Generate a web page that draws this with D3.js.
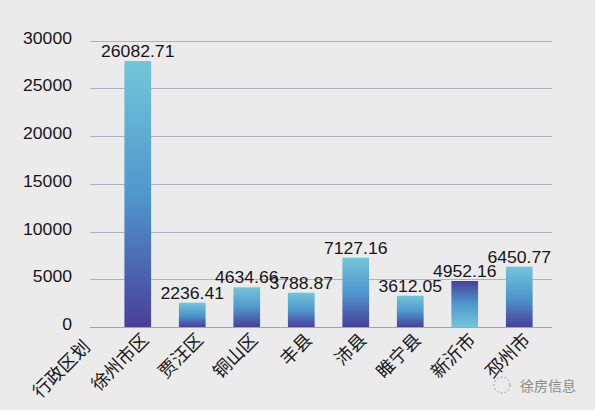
<!DOCTYPE html>
<html><head><meta charset="utf-8">
<script src="https://cdn.jsdelivr.net/npm/d3@7"></script>
<style>html,body{margin:0;padding:0;background:#ebebeb}svg{display:block}</style>
</head><body>
<svg id="chart" width="595" height="410"></svg>
<script>
const headerLabel = "行政区划";
const categories = ["徐州市区","贾汪区","铜山区","丰县","沛县","睢宁县","新沂市","邳州市"];
const valueLabels = ["26082.71","2236.41","4634.66","3788.87","7127.16","3612.05","4952.16","6450.77"];
// bar heights as drawn in the picture
const values = [27850,2545,4157,3592,7257,3277,4817,6314];
const reversedGradient = [false,false,false,false,false,false,true,false];
const yTicks = [0,5000,10000,15000,20000,25000,30000];
const footerText = "徐房信息";

const svg = d3.select("#chart");
const W = 595, H = 410;
svg.append("rect").attr("width",W).attr("height",H).attr("fill","#ebebeb");

const y = d3.scaleLinear().domain([0,30000]).range([327,40.5]);
const x = d3.scaleBand().domain(categories).range([110.5,546.5]).paddingInner(0.51).paddingOuter(0.255);

const defs = svg.append("defs");
function grad(id, stops){
  const g = defs.append("linearGradient").attr("id",id).attr("x1",0).attr("y1",0).attr("x2",0).attr("y2",1);
  stops.forEach(s=>g.append("stop").attr("offset",s[0]).attr("stop-color",s[1]));
}
grad("gNorm",[[0,"#74c5da"],[0.5,"#4f98cd"],[1,"#483f99"]]);
grad("gRev",[[0,"#483f99"],[0.5,"#4f98cd"],[1,"#74c5da"]]);

function stretch(sel,k){
  sel.each(function(){
    const l = this.getComputedTextLength();
    d3.select(this).attr("textLength",l*k).attr("lengthAdjust","spacingAndGlyphs");
  });
}

// gridlines
svg.append("g").selectAll("line").data(yTicks).join("line")
  .attr("x1",90).attr("x2",552)
  .attr("y1",d=>Math.round(y(d))+0.5).attr("y2",d=>Math.round(y(d))+0.5)
  .attr("stroke",d=>d===0?"#9aa2bc":"#abb2c8").attr("stroke-width",1);

// y tick labels
const yl = svg.append("g").selectAll("text").data(yTicks).join("text")
  .attr("x",72).attr("y",d=>y(d)+3)
  .attr("text-anchor","end")
  .attr("font-family","'Liberation Sans',Arial,sans-serif")
  .attr("font-size",16).attr("fill","#161616")
  .text(d=>d);
stretch(yl,1.1);

// bars
svg.append("g").selectAll("rect").data(categories).join("rect")
  .attr("x",d=>x(d)).attr("width",x.bandwidth())
  .attr("y",(d,i)=>y(values[i])).attr("height",(d,i)=>y(0)-y(values[i]))
  .attr("fill",(d,i)=>reversedGradient[i]?"url(#gRev)":"url(#gNorm)");

// value labels
const vl = svg.append("g").selectAll("text").data(categories).join("text")
  .attr("x",d=>x(d)+x.bandwidth()/2).attr("y",(d,i)=>y(values[i])-4)
  .attr("text-anchor","middle")
  .attr("font-family","'Liberation Sans',Arial,sans-serif")
  .attr("font-size",16).attr("fill","#161616")
  .text((d,i)=>valueLabels[i]);
stretch(vl,1.1);

// category labels
const cjk = "'Noto Sans CJK SC','Noto Sans',sans-serif";
svg.append("g").selectAll("text").data(categories).join("text")
  .attr("transform",d=>`translate(${x(d)+x.bandwidth()/2+12},341) rotate(-45)`)
  .attr("text-anchor","end")
  .attr("font-family",cjk).attr("font-size",18).attr("fill","#161616")
  .text(d=>d);
svg.append("text")
  .attr("transform",`translate(${x(categories[0])+x.bandwidth()/2-54.5+8},348) rotate(-45)`)
  .attr("text-anchor","end")
  .attr("font-family",cjk).attr("font-size",18).attr("fill","#161616")
  .text(headerLabel);

// footer mark
const f = svg.append("g");
f.append("circle").attr("cx",502).attr("cy",385).attr("r",8)
  .attr("fill","none").attr("stroke","#9a9a9a").attr("stroke-width",1).attr("stroke-dasharray","2,2");
f.append("text").attr("x",520).attr("y",391)
  .attr("font-family",cjk).attr("font-size",14).attr("fill","#8a8a8a")
  .text(footerText);
</script>
</body></html>
